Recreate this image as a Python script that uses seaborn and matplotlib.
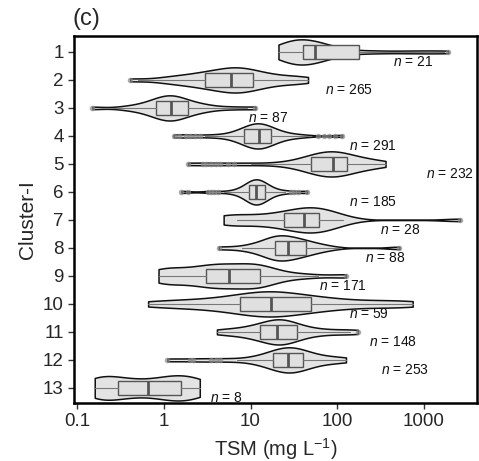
import pandas as pd
import seaborn as sns
import matplotlib.pyplot as plt
import numpy as np

# cluster ids, top to bottom
clusters = [str(i) for i in range(1, 14)]
n_counts = [21, 265, 87, 291, 232, 185, 28, 88, 171, 59, 148, 253, 8]

# representative TSM values (mg/L)
samples = {
    "1": [21, 22, 23, 25, 27, 29, 31, 33, 35, 37, 39, 41, 43, 45, 48, 52, 56, 60, 66, 72, 80, 90,
          110, 178, 300, 600, 1100, 1900],
    "2": [0.41, 0.9, 1.3, 1.6, 2.0, 2.4, 2.8, 3.2, 3.6, 4.0, 4.5, 5.0, 5.5, 6.0, 6.5, 7.0, 7.5, 8.0,
          9.0, 10, 11, 12.5, 14, 17, 21, 27, 36, 46],
    "3": [0.15, 0.35, 0.5, 0.6, 0.7, 0.8, 0.85, 0.9, 1.0, 1.05, 1.1, 1.2, 1.25, 1.3, 1.4, 1.5, 1.6,
          1.8, 2.0, 2.3, 2.8, 3.5, 6.0, 11.4],
    "4": [1.3, 2.0, 3.5, 5.5, 7.0, 8.0, 8.5, 9.0, 10, 10.5, 11, 11.5, 12, 12.4, 13, 13.5, 14, 15, 16,
          17, 19, 22, 27, 40, 114],
    "5": [1.9, 4.0, 9.0, 20, 32, 40, 45, 50, 55, 60, 65, 70, 75, 82, 88, 92, 96, 100, 110, 120, 130,
          145, 165, 190, 230, 280, 360],
    "6": [1.6, 3.5, 6.0, 8.0, 9.0, 9.5, 10, 10.3, 10.7, 11, 11.3, 11.7, 12, 12.5, 13, 13.5, 14, 14.8,
          16, 19, 26, 45],
    "7": [4.9, 5.2, 6.0, 8.0, 11, 14, 18, 22, 26, 30, 34, 38, 42, 46, 50, 55, 60, 66, 72, 80, 95, 120,
          2600],
    "8": [4.3, 8.0, 11, 13, 15, 17, 18, 19, 20, 21, 22, 24, 26, 28, 30, 33, 36, 40, 44, 50, 60, 80, 520],
    "9": [0.87, 0.9, 1.0, 1.2, 1.5, 1.9, 2.3, 2.7, 3.1, 3.5, 4.0, 4.5, 5.0, 5.6, 6.5, 7.5, 9.0, 10, 11,
          12, 13, 15, 18, 25, 45, 126],
    "10": [0.66, 1.2, 2.0, 3.0, 4.5, 6.0, 7.5, 9.0, 11, 13, 15, 17, 19, 22, 26, 32, 40, 50, 65, 90, 140,
           250, 450, 740],
    "11": [4.1, 6.0, 8.0, 10, 12, 13.5, 15, 17, 18.5, 20, 21.5, 23, 25, 27, 30, 34, 40, 50, 70, 110, 173],
    "12": [1.1, 2.5, 5.0, 10, 14, 17, 19, 21, 23, 25, 27, 28, 30, 32, 35, 38, 42, 50, 65, 90, 126],
    "13": [0.16, 0.2, 0.3, 0.5, 0.9, 1.3, 1.8, 2.6],
}

# box summaries (mg/L)
whis_lo = [21, 0.5, 0.2, 3.0, 10, 5.0, 7.0, 8.0, 0.87, 0.66, 4.1, 7.0, 0.16]
q1 = [40, 3.0, 0.81, 8.5, 50, 9.5, 24, 19, 3.1, 7.5, 12.7, 18, 0.30]
median = [56, 6.0, 1.2, 12.4, 90, 11.7, 41, 27, 5.6, 17, 20, 27, 0.66]
q3 = [178, 10.8, 1.9, 17, 130, 14.8, 62, 44, 12.7, 50, 34, 40, 1.57]
whis_hi = [1700, 46, 9.0, 50, 360, 25, 117, 110, 60, 740, 140, 126, 2.6]
fliers = [
    [1900], [0.41], [0.15, 11.4],
    [1.3, 1.5, 1.8, 2.0, 2.3, 2.6, 60, 70, 80, 95, 114],
    [1.9, 2.8, 3.1, 3.5, 4.0, 4.5, 5.5, 6.5],
    [1.6, 1.9, 3.2, 3.5, 3.8, 4.2, 29, 32, 35, 45],
    [2600], [4.3, 520], [126], [], [173],
    [1.1, 2.0, 2.2, 3.5, 4.0, 4.5], [],
]

# where the n = ... labels sit (x in mg/L)
label_x = [740, 135, 16, 260, 2000, 260, 525, 355, 117, 230, 440, 600, 5.2]

rows = [(c, v) for c in clusters for v in samples[c]]
df = pd.DataFrame(rows, columns=["cluster", "tsm"])

sns.set_theme(style="ticks")
plt.rcParams["font.family"] = ["Liberation Sans", "DejaVu Sans"]
plt.rcParams["mathtext.fontset"] = "custom"
plt.rcParams["mathtext.rm"] = "Liberation Sans"
plt.rcParams["mathtext.it"] = "Liberation Sans:italic"

fig = plt.figure(figsize=(4.79, 4.61), dpi=100)
ax = fig.add_axes([0.1545, 0.1258, 0.8413, 0.7962])

sns.violinplot(data=df, x="tsm", y="cluster", order=clusters, log_scale=True,
               cut=0, inner=None, density_norm="width", width=0.9, bw_adjust=0.65,
               color="#e3e3e3", linecolor="#111111", linewidth=1.1, saturation=1, ax=ax)

stats = []
for i in range(len(clusters)):
    stats.append(dict(whislo=whis_lo[i], q1=q1[i], med=median[i], q3=q3[i],
                      whishi=whis_hi[i], fliers=fliers[i]))
ax.bxp(stats, positions=np.arange(len(clusters)), widths=0.52, orientation="horizontal",
       patch_artist=True, showcaps=False, manage_ticks=False,
       boxprops=dict(facecolor="#e0e0e0", edgecolor="#555555", linewidth=1.0),
       medianprops=dict(color="#555555", linewidth=2.0),
       whiskerprops=dict(color="#777777", linewidth=0.8),
       flierprops=dict(marker="o", markersize=4, markerfacecolor="#888888",
                       markeredgecolor="none", alpha=0.7))

for i, c in enumerate(clusters):
    ax.text(label_x[i], i + 0.35, f"$n$ = {n_counts[i]}", fontsize=10,
            ha="center", va="center", color="#111111")

ax.set_xlim(0.0923, 4080)
ax.set_ylim(12.54, -0.57)
ax.set_xticks([0.1, 1, 10, 100, 1000])
ax.set_xticklabels(["0.1", "1", "10", "100", "1000"])
ax.minorticks_off()
ax.tick_params(axis="both", labelsize=13.5, length=4, width=1, color="#333333")
ax.set_xlabel("TSM (mg L$^{-1}$)", fontsize=14.5)
ax.set_ylabel("Cluster-I", fontsize=15)
for s in ax.spines.values():
    s.set_linewidth(1.8)
    s.set_color("black")

fig.text(0.152, 0.958, "(c)", fontsize=17, ha="left", va="center")

plt.savefig("out.png", dpi=100)
